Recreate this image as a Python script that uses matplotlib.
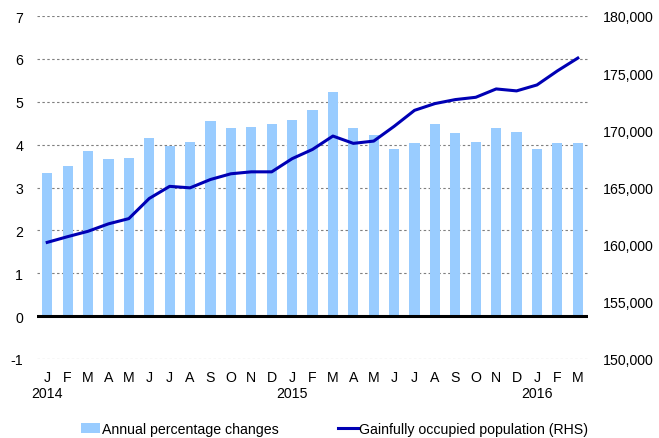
import matplotlib
matplotlib.use("Agg")
import matplotlib.pyplot as plt
from matplotlib.ticker import FuncFormatter
from matplotlib.lines import Line2D
from matplotlib.patches import Patch
import matplotlib.transforms as mtrans

plt.rcParams['font.family'] = ['Liberation Sans', 'DejaVu Sans']
plt.rcParams['axes.unicode_minus'] = False

months = ["J", "F", "M", "A", "M", "J", "J", "A", "S", "O", "N", "D",
          "J", "F", "M", "A", "M", "J", "J", "A", "S", "O", "N", "D",
          "J", "F", "M"]
years = {0: "2014", 12: "2015", 24: "2016"}

annual_pct = [3.34, 3.51, 3.85, 3.66, 3.69, 4.16, 3.97, 4.05, 4.55, 4.39, 4.42, 4.47,
              4.57, 4.81, 5.23, 4.38, 4.22, 3.89, 4.04, 4.47, 4.27, 4.06, 4.38, 4.29,
              3.90, 4.04, 4.03]
occupied = [160200, 160700, 161170, 161820, 162280, 164040, 165100, 164970, 165700,
            166200, 166370, 166370, 167520, 168330, 169500, 168860, 169060, 170350,
            171750, 172340, 172690, 172890, 173620, 173450, 173970, 175200, 176320]

FS = 10.2
bar_color = "#99CCFF"
line_color = "#0000B4"

fig = plt.figure(figsize=(6.59, 4.39), dpi=100)
ax = fig.add_axes([37/659, (439-360)/439, (588-37)/659, (360-17)/439])
x = list(range(len(months)))

ax.bar(x, annual_pct, width=0.5, color=bar_color, zorder=2)
ax.set_xlim(-0.5, len(months) - 0.5)
ax.set_ylim(-1, 7)
ax.set_yticks(range(-1, 8))
for v in range(-1, 8):
    if v != 0:
        ax.axhline(v, color="#7f7f7f", lw=0.8, ls=(0, (2.2, 2.2)), zorder=1)
ax.axhline(0, color="black", lw=2.2, zorder=3)

for s in ax.spines.values():
    s.set_visible(False)
ax.tick_params(axis='y', length=0, pad=10, labelsize=FS)
ax.tick_params(axis='x', length=0, pad=8, labelsize=FS)
ax.set_xticks(x)
ax.set_xticklabels(months)

trans = mtrans.blended_transform_factory(ax.transData, ax.transAxes)
for i, y in years.items():
    ax.text(i, -0.10, y, transform=trans, ha='center', va='center', fontsize=FS)

ax2 = ax.twinx()
ax2.plot(x, occupied, color=line_color, lw=2.2, zorder=4)
ax2.set_ylim(150000, 180000)
ax2.set_yticks(range(150000, 180001, 5000))
ax2.yaxis.set_major_formatter(FuncFormatter(lambda v, p: f"{int(v):,}"))
ax2.tick_params(axis='y', length=0, pad=11, labelsize=FS)
for s in ax2.spines.values():
    s.set_visible(False)

handles = [Patch(facecolor=bar_color, edgecolor='none'),
           Line2D([0], [0], color=line_color, lw=2.2)]
labels = ["Annual percentage changes", "Gainfully occupied population (RHS)"]
fig.legend(handles, labels, loc='center', bbox_to_anchor=((71+598)/2/659, (439-430)/439),
           ncol=2, frameon=False, fontsize=FS, handlelength=1.4, handleheight=0.65,
           handletextpad=0.1, columnspacing=4.2, borderpad=0, borderaxespad=0)

fig.savefig("out.png", dpi=100)
